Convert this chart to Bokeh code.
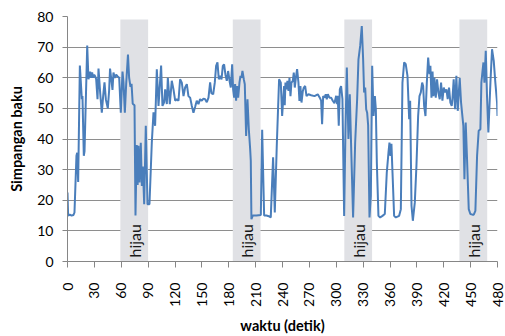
import math
from bokeh.plotting import figure
from bokeh.models import Range1d, FixedTicker, ColumnDataSource
from bokeh.core.properties import value
from bokeh.embed import file_html
from bokeh.resources import INLINE

# time (s) and standard deviation values
waktu = [0, 0.7, 2.6, 4.5, 6.7, 7.8, 10, 10.8, 11.9, 13.8, 16, 16.7, 18.2, 19, 22, 23.4, 25.3, 26.4,
         27.5, 28.6, 29.8, 30.9, 32, 33.5, 34.6, 36.5, 38.3, 39.8, 41.3, 42.8, 45, 46.5, 47.5, 48.7,
         50.2, 51.3, 52.8, 54.3, 55.8, 57.7, 59.5, 61.4, 62.5, 64, 65.5, 67.5, 68.8, 70.3, 71.5, 72.8,
         74.8, 75.9, 77.3, 78.3, 79.2, 80.4, 81.8, 83, 84.1, 85.6, 87.4, 89.3, 91.5, 94.1, 96, 97.8,
         99.7, 101.6, 104.5, 106, 107.9, 109, 110.9, 112, 114.2, 116.4, 118.3, 120.2, 122, 123.9,
         125.7, 127.6, 129.5, 131.3, 133.2, 135, 136.9, 138.8, 140.6, 142.5, 144.3, 146.2, 148,
         149.9, 151.8, 153.6, 155.5, 157.4, 159.2, 160.6, 162.6, 164.4, 165.9, 167.4, 168.9, 170.4,
         171.9, 173.4, 174.8, 176.3, 177.8, 179.3, 181.2, 182.3, 183.8, 184.9, 186, 187.1, 188.2,
         189.3, 190.5, 192, 193.1, 194.2, 195.3, 196.8, 197.9, 199.4, 200.9, 202.4, 203.9, 204.6,
         205.3, 206.8, 210.9, 215.8, 217.3, 219.5, 222.1, 224.7, 226.9, 229.5, 231.4, 233.6, 236.2,
         238.1, 239.6, 241.8, 242.5, 243.3, 244.4, 245.5, 246.7, 247.8, 248.9, 250, 251.5, 252.6,
         253.7, 255.2, 256.3, 257.8, 258.9, 260, 261.2, 262.7, 263.8, 265.3, 266.8, 269, 272, 275.7,
         279.4, 281.6, 283.1, 284.2, 285.4, 286.8, 288.3, 289.4, 290.6, 292.4, 294.3, 296.1, 298,
         299.9, 301, 301.7, 302.8, 304, 305.4, 306.9, 308.8, 310.3, 311.8, 313.6, 315.1, 316.6,
         318.8, 321.1, 323.3, 324.8, 326.7, 328.5, 330, 331.1, 332.3, 333.4, 334.5, 335.6, 337.1,
         338.6, 340.1, 341.6, 343.1, 344.2, 345.3, 347.1, 349, 351.6, 354.2, 356.4, 358.3, 359.4,
         360.5, 361.6, 362.8, 364.6, 366.5, 370.2, 372.1, 373.9, 375.8, 377.6, 379.5, 381.4, 382.5,
         384, 385.5, 387.7, 389.5, 391.4, 392.9, 394.4, 395.9, 397, 398.1, 399.6, 401.1, 402.6,
         404.1, 405.1, 406.3, 407.5, 408.5, 409.6, 411.1, 412.5, 414, 415.5, 417, 418.5, 420, 421.5,
         423, 424.4, 425.9, 427.4, 428.9, 429.7, 431.1, 432.6, 434.1, 435.6, 437.8, 439.3, 440.8,
         441.9, 443.1, 444.5, 446, 447.9, 449.7, 452, 453.5, 455.3, 457.2, 459, 460.9, 462, 463.1,
         464.3, 465.4, 466.9, 468.3, 469.8, 472.1, 473.9, 475.8, 477.6, 479.5, 480]
simpangan = [22.5, 15, 15.3, 15, 15.2, 16, 34.5, 35.5, 26, 64, 53, 54, 34.5, 36, 70.5, 59.5, 62, 60,
             61.7, 60, 61, 60.5, 59.5, 53, 63, 55, 48.6, 54, 58.5, 53, 50, 56, 63, 60,
             56, 61.7, 60, 61, 60.5, 60, 48.6, 62, 58.5, 48.6, 58, 67.6, 60, 57, 58, 51.5,
             51, 15, 38, 25, 37.8, 25.8, 38.8, 24.7, 31, 18.7, 44.3, 18.7, 18.7, 38.8, 48.7, 44.3,
             62.8, 50.8, 64, 50.8, 52, 56.2, 51.4, 60, 51.4, 59, 56.2, 52.5, 53, 52.5,
             59.5, 58.4, 54, 56.8, 57.9, 54, 53.5, 50.8, 48.6, 50.5, 52.5, 51.4, 53,
             52.5, 53.2, 53, 52, 53.5, 58.5, 55, 54.6, 58.4, 63.9, 65, 59.5, 60.6,
             59.5, 63.9, 64.4, 61, 59, 62.2, 58.4, 56.8, 64.4, 56.2, 53.5, 57.9, 52.5,
             57.3, 53.5, 58.5, 60.6, 60, 62.2, 59.5, 57.9, 41, 53, 43.2, 36.7, 32.9,
             13.8, 15, 15, 15.2, 43, 15, 15, 14.8, 14.4, 34, 16, 37.8, 59.5,
             58.4, 47.5, 57.3, 51, 58.4, 56.2, 59, 55.7, 60, 54, 58.4, 59, 61.7,
             56.8, 60.6, 62.8, 58.4, 52.4, 57.3, 51.9, 55.7, 56.8, 57.3, 54, 54.6, 54.3, 54,
             54.6, 53.5, 52.5, 44.8, 54, 53.5, 54.6, 53, 54.6, 53.5, 53.5, 52.5, 51.7,
             54.1, 51.4, 54.1, 44.3, 56.2, 57.3, 53, 14.9, 43.2, 63.3, 40, 54.6, 37.8,
             14.4, 38.8, 52.9, 66, 70.4, 76.9, 66, 55.2, 56.8, 49.7, 48.6, 44.4, 14.4,
             21.4, 63.9, 47.5, 54, 49.7, 32.3, 14.9, 14.4, 14.9, 15.5, 29, 35.6, 38.8,
             34.5, 38.4, 29, 14.9, 14.4, 14.9, 17.1, 58.4, 65, 64.4, 60.6, 46.5, 52.5,
             18.2, 13.3, 19.3, 31.2, 47.5, 54, 55.2, 58.4, 57.3, 50.8, 47.5, 58.4, 66.6,
             61.2, 63.9, 53.5, 62, 54, 60, 53.5, 59.5, 55.2, 53, 58.4, 52.5, 56.8, 55.2, 56.2,
             53, 56.8, 51.9, 50.8, 53, 59.5, 49.7, 60.6, 49.2, 60, 52, 47.5, 44.3,
             26.9, 45.4, 33.4, 17.1, 15.5, 15.3, 15.3, 16.5, 34.5, 42.7, 43.2, 58.4, 61.7, 65,
             58.4, 68.8, 54, 42.1, 58.4, 69.3, 65.5, 58.4, 51.9, 47.5, 44.3]

# green-light intervals (s)
hijau_mulai = [59, 184.5, 309, 437.5]
hijau_selesai = [90, 215.5, 340, 468.5]
hijau_atas = [79, 79, 79, 79]
hijau_label = ["hijau", "hijau", "hijau", "hijau"]

x_ticks = list(range(0, 481, 30))
y_ticks = list(range(0, 81, 10))

FONT = "Lato"

p = figure(width=505, height=336, output_backend="svg", toolbar_location=None,
           x_range=Range1d(0, 480), y_range=Range1d(0, 80),
           min_border_left=67, min_border_top=16, min_border_right=8, min_border_bottom=75)
p.outline_line_color = None
p.background_fill_color = "white"
p.border_fill_color = "white"

band_src = ColumnDataSource(dict(left=hijau_mulai, right=hijau_selesai,
                                 top=hijau_atas, bottom=[0] * len(hijau_mulai)))
p.quad(left="left", right="right", top="top", bottom="bottom", source=band_src,
       fill_color="#e0e1e5", line_color=None)

p.xgrid.grid_line_color = None
p.ygrid.ticker = FixedTicker(ticks=y_ticks)
p.ygrid.grid_line_color = "#8e8e8e"
p.ygrid.grid_line_width = 1
p.ygrid.level = "underlay"

p.line(waktu, simpangan, line_color="#4a7ebb", line_width=2)

txt_src = ColumnDataSource(dict(x=[(a + b) / 2 for a, b in zip(hijau_mulai, hijau_selesai)],
                                y=[1.3] * len(hijau_mulai), t=hijau_label))
p.text(x="x", y="y", text="t", source=txt_src, angle=math.pi / 2,
       text_align="left", text_baseline="middle", text_font=value(FONT),
       text_font_size="16px", text_color="#1a1a1a")

xa = p.xaxis[0]
xa.ticker = FixedTicker(ticks=x_ticks)
xa.major_label_orientation = math.pi / 2
xa.axis_label = "waktu (detik)"
ya = p.yaxis[0]
ya.ticker = FixedTicker(ticks=y_ticks)
ya.axis_label = "Simpangan baku"

for ax in (xa, ya):
    ax.axis_line_color = "#868686"
    ax.major_tick_line_color = "#868686"
    ax.minor_tick_line_color = None
    ax.major_tick_in = 0
    ax.major_label_text_font = FONT
    ax.major_label_text_font_size = "14px"
    ax.major_label_text_color = "#000000"
    ax.axis_label_text_font = FONT
    ax.axis_label_text_font_size = "14.5px"
    ax.axis_label_text_font_style = "bold"
    ax.axis_label_text_color = "#000000"

xa.major_tick_out = 6
xa.major_label_standoff = 15
xa.axis_label_standoff = 7
ya.major_tick_out = 5
ya.major_label_standoff = 9
ya.axis_label_standoff = 9

open("out.html", "w").write(file_html(p, INLINE))
